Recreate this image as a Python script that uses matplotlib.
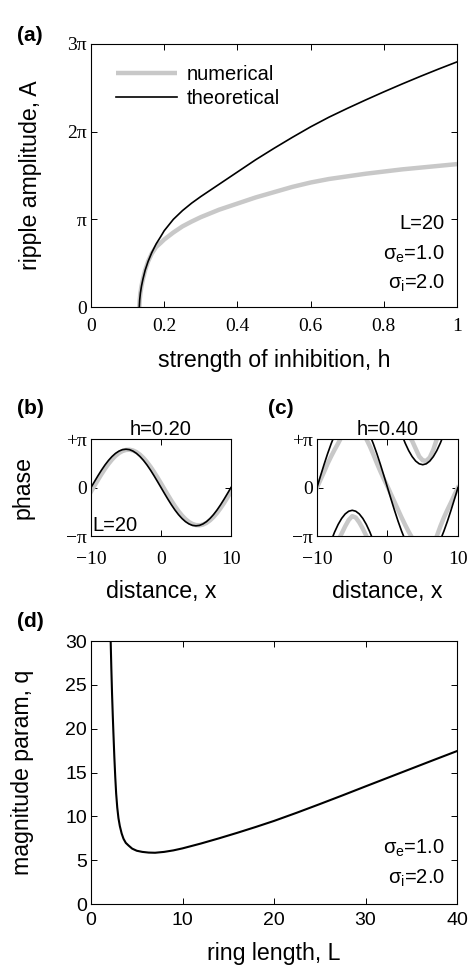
import numpy as np
import matplotlib
matplotlib.use("Agg")
import matplotlib.pyplot as plt

plt.rcParams['font.family'] = ['Liberation Sans', 'DejaVu Sans']
plt.rcParams['mathtext.fontset'] = 'custom'
plt.rcParams['mathtext.rm'] = 'Liberation Sans'
plt.rcParams['mathtext.it'] = 'Liberation Sans'
plt.rcParams['axes.linewidth'] = 0.8

SERIF = 'Liberation Serif'
GRAY = '#c8c8c8'

# (a) ripple amplitude vs strength of inhibition (A in units of pi)
h_vals = [0.132, 0.133, 0.135, 0.138, 0.142, 0.148, 0.156, 0.166, 0.178, 0.19, 0.2,
          0.225, 0.25, 0.275, 0.3, 0.35, 0.4, 0.45, 0.5, 0.55, 0.6, 0.65, 0.7,
          0.75, 0.8, 0.85, 0.9, 0.95, 1.0]
amp_theory = [0, 0.08, 0.16, 0.24, 0.32, 0.42, 0.52, 0.62, 0.72, 0.80, 0.87,
              1.0, 1.10, 1.185, 1.26, 1.40, 1.54, 1.68, 1.81, 1.935, 2.055, 2.165, 2.265,
              2.361, 2.454, 2.544, 2.631, 2.715, 2.796]
amp_numeric = [0, 0.08, 0.16, 0.24, 0.32, 0.42, 0.52, 0.61, 0.685, 0.73, 0.77,
               0.85, 0.92, 0.975, 1.025, 1.11, 1.18, 1.25, 1.31, 1.37, 1.42, 1.46, 1.49,
               1.52, 1.545, 1.57, 1.59, 1.61, 1.63]

# (b),(c) phase vs distance (units of pi, unwrapped)
x_dist = np.arange(-10, 10.01, 0.5)
phase_b_theory = [0, 0.123, 0.244, 0.359, 0.465, 0.559, 0.639, 0.704, 0.751, 0.781, 0.79,
                  0.781, 0.751, 0.704, 0.639, 0.559, 0.465, 0.359, 0.244, 0.123, 0,
                  -0.123, -0.244, -0.359, -0.465, -0.559, -0.639, -0.704, -0.751, -0.781, -0.79,
                  -0.781, -0.751, -0.704, -0.639, -0.559, -0.465, -0.359, -0.244, -0.123, 0]
phase_b_numeric = [-0.086, 0.037, 0.158, 0.276, 0.387, 0.488, 0.577, 0.652, 0.711, 0.752, 0.775,
                   0.779, 0.764, 0.730, 0.677, 0.609, 0.525, 0.428, 0.321, 0.206, 0.086,
                   -0.037, -0.158, -0.276, -0.387, -0.488, -0.577, -0.652, -0.711, -0.752, -0.775,
                   -0.779, -0.764, -0.730, -0.677, -0.609, -0.525, -0.428, -0.321, -0.206, -0.086]
phase_c_theory = [0, 0.239, 0.473, 0.695, 0.899, 1.082, 1.238, 1.363, 1.455, 1.511, 1.53,
                  1.511, 1.455, 1.363, 1.238, 1.082, 0.899, 0.695, 0.473, 0.239, 0,
                  -0.239, -0.473, -0.695, -0.899, -1.082, -1.238, -1.363, -1.455, -1.511, -1.53,
                  -1.511, -1.455, -1.363, -1.238, -1.082, -0.899, -0.695, -0.473, -0.239, 0]
phase_c_numeric = [0, 0.16, 0.32, 0.49, 0.64, 0.78, 0.91, 1.05, 1.20, 1.33, 1.41,
                   1.38, 1.28, 1.15, 1.00, 0.85, 0.68, 0.50, 0.33, 0.17, 0.02,
                   -0.14, -0.30, -0.46, -0.62, -0.77, -0.91, -1.04, -1.20, -1.36, -1.44,
                   -1.45, -1.38, -1.22, -1.00, -0.80, -0.62, -0.46, -0.31, -0.15, 0.0]

# (d) magnitude parameter vs ring length
ring_L = [2.15, 2.22, 2.3, 2.38, 2.45, 2.55, 2.65, 2.75, 2.87, 3.0, 3.15, 3.35, 3.55,
          3.8, 4.1, 4.5, 5.0, 5.6, 6.3, 7.0, 8.0, 9.0, 10, 12, 14, 16, 18, 20,
          22.5, 25, 27.5, 30, 32.5, 35, 37.5, 40]
mag_q = [30, 27, 24, 21.5, 19.5, 16.8, 14.5, 12.6, 11.0, 9.8, 8.9, 8.05, 7.45,
         6.98, 6.68, 6.32, 6.08, 5.95, 5.87, 5.85, 5.95, 6.12, 6.35, 6.9, 7.5, 8.13, 8.79, 9.48,
         10.42, 11.4, 12.4, 13.42, 14.43, 15.44, 16.45, 17.45]

LABEL_FS = 16.7
ANNO_FS = 14.5
TICK_FS = 14


def style_axes(ax, pad_x, pad_y):
    ax.tick_params(direction='in', top=True, right=True, length=4, width=0.7,
                   pad=pad_x, axis='x')
    ax.tick_params(direction='in', top=True, right=True, length=4, width=0.7,
                   pad=pad_y, axis='y')


fig = plt.figure(figsize=(4.71, 9.67), dpi=100)

# ---- (a)
ax_a = fig.add_axes([0.1932, 0.6825, 0.7771, 0.2720])
ax_a.plot(h_vals, amp_numeric, color=GRAY, lw=3.2, label='numerical', solid_capstyle='butt')
ax_a.plot(h_vals, amp_theory, color='black', lw=1.2, label='theoretical')
ax_a.set_xlim(0, 1)
ax_a.set_ylim(0, 3)
ax_a.set_xticks([0, 0.2, 0.4, 0.6, 0.8, 1])
ax_a.set_xticklabels(['0', '0.2', '0.4', '0.6', '0.8', '1'], family=SERIF, fontsize=TICK_FS)
ax_a.set_yticks([0, 1, 2, 3])
ax_a.set_yticklabels(['0', 'π', '2π', '3π'], family=SERIF, fontsize=TICK_FS)
style_axes(ax_a, 8, 3)
ax_a.set_xlabel('strength of inhibition, h', fontsize=LABEL_FS)
ax_a.set_ylabel('ripple amplitude, A', fontsize=LABEL_FS)
ax_a.xaxis.set_label_coords(0.5, -0.16)
ax_a.yaxis.set_label_coords(-0.134, 0.5)
ax_a.legend(loc='upper left', bbox_to_anchor=(0.02, 0.99), frameon=False,
            fontsize=ANNO_FS, handlelength=3.0, handletextpad=0.5, labelspacing=0.25)
ax_a.text(0.967, 0.297, 'L=20', transform=ax_a.transAxes, ha='right', va='baseline', fontsize=ANNO_FS)
ax_a.text(0.967, 0.181, r'$\sigma_{e}$=1.0', transform=ax_a.transAxes, ha='right', va='baseline', fontsize=ANNO_FS)
ax_a.text(0.967, 0.071, r'$\sigma_{i}$=2.0', transform=ax_a.transAxes, ha='right', va='baseline', fontsize=ANNO_FS)
fig.text(0.036, 0.963, '(a)', fontsize=15, fontweight='bold', va='center')

# ---- (b) and (c)
ax_b = fig.add_axes([0.1932, 0.4457, 0.2972, 0.1003])
ax_c = fig.add_axes([0.6730, 0.4457, 0.2994, 0.1003])
ax_b.plot(x_dist, phase_b_numeric, color=GRAY, lw=3.2)
ax_b.plot(x_dist, phase_b_theory, color='black', lw=1.2)
# phase is wrapped onto [-pi, pi]: draw shifted copies, axes clip the rest
for k in (-2, 0, 2):
    ax_c.plot(x_dist, np.array(phase_c_numeric) + k, color=GRAY, lw=3.2)
for k in (-2, 0, 2):
    ax_c.plot(x_dist, np.array(phase_c_theory) + k, color='black', lw=1.2)

for ax, title in ((ax_b, 'h=0.20'), (ax_c, 'h=0.40')):
    ax.set_xlim(-10, 10)
    ax.set_ylim(-1, 1)
    ax.set_xticks([-10, 0, 10])
    ax.set_xticklabels(['\u221210', '0', '10'], family=SERIF, fontsize=TICK_FS)
    ax.set_yticks([-1, 0, 1])
    ax.set_yticklabels(['\u2212π', '0', '+π'], family=SERIF, fontsize=TICK_FS)
    style_axes(ax, 11, 3)
    ax.set_title(title, fontsize=ANNO_FS, pad=3)
    ax.set_xlabel('distance, x', fontsize=LABEL_FS)
    ax.xaxis.set_label_coords(0.5, -0.45)

ax_b.set_ylabel('phase', fontsize=LABEL_FS)
ax_b.yaxis.set_label_coords(-0.404, 0.5)
ax_b.text(0.012, 0.055, 'L=20', transform=ax_b.transAxes, ha='left', va='baseline', fontsize=ANNO_FS)
fig.text(0.036, 0.578, '(b)', fontsize=15, fontweight='bold', va='center')
fig.text(0.569, 0.578, '(c)', fontsize=15, fontweight='bold', va='center')

# ---- (d)
ax_d = fig.add_axes([0.1932, 0.0651, 0.7771, 0.2720])
ax_d.plot(ring_L, mag_q, color='black', lw=1.5)
ax_d.set_xlim(0, 40)
ax_d.set_ylim(0, 30)
ax_d.set_xticks([0, 10, 20, 30, 40])
ax_d.set_yticks([0, 5, 10, 15, 20, 25, 30])
ax_d.tick_params(labelsize=14)
style_axes(ax_d, 6, 3)
ax_d.set_xlabel('ring length, L', fontsize=LABEL_FS)
ax_d.set_ylabel('magnitude param, q', fontsize=LABEL_FS)
ax_d.xaxis.set_label_coords(0.5, -0.145)
ax_d.yaxis.set_label_coords(-0.156, 0.5)
ax_d.text(0.967, 0.190, r'$\sigma_{e}$=1.0', transform=ax_d.transAxes, ha='right', va='baseline', fontsize=ANNO_FS)
ax_d.text(0.967, 0.076, r'$\sigma_{i}$=2.0', transform=ax_d.transAxes, ha='right', va='baseline', fontsize=ANNO_FS)
fig.text(0.036, 0.357, '(d)', fontsize=15, fontweight='bold', va='center')

fig.savefig('out.png', dpi=100)
